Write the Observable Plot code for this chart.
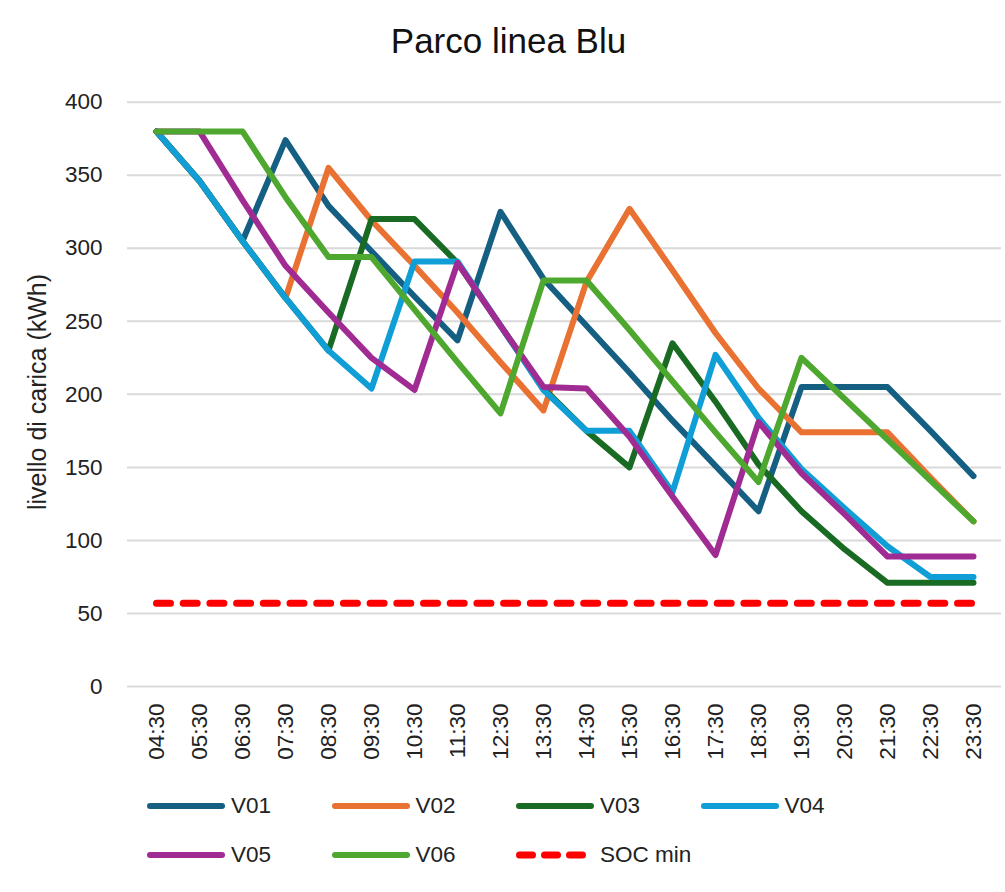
<!DOCTYPE html>
<html>
<head>
<meta charset="utf-8">
<script src="https://cdn.jsdelivr.net/npm/d3@7"></script>
<script src="https://cdn.jsdelivr.net/npm/@observablehq/plot@0.6"></script>
<style>
  html, body { margin: 0; padding: 0; background: #fff; }
  body { width: 1005px; height: 892px; position: relative; overflow: hidden;
         font-family: "Liberation Sans", Arial, sans-serif; color: #222; }
  #title { position: absolute; left: 6px; top: 23px; width: 1005px; text-align: center;
           font-size: 35px; line-height: 35px; color: #111; z-index: 2; }
  #ylabel { position: absolute; left: 37px; top: 392px; transform: translate(-50%, -50%) rotate(-90deg);
            white-space: nowrap; font-size: 25px; line-height: 25px; color: #222; z-index: 2; }
  #chart { position: absolute; left: 0; top: 80px; z-index: 1; }
  .leg { position: absolute; height: 30px; display: flex; align-items: center; font-size: 22.5px; color: #222; z-index: 2; }
  .leg svg { display: block; }
  .leg span { margin-left: 6px; }
</style>
</head>
<body>
<div id="title">Parco linea Blu</div>
<div id="ylabel">livello di carica (kWh)</div>
<div id="chart"></div>
<div id="legend"></div>
<script>
// ---- data ----
const times = ["04:30","05:30","06:30","07:30","08:30","09:30","10:30","11:30","12:30","13:30",
               "14:30","15:30","16:30","17:30","18:30","19:30","20:30","21:30","22:30","23:30"];
const seriesNames = ["V01","V02","V03","V04","V05","V06"];
const seriesColors = ["#156082","#E97132","#196B24","#0F9ED5","#A02B93","#4EA72E"];
const V01 = [380, 346, 305, 374, 329, 298, 267, 237, 325, 279, 247, 215, 182, 151, 120, 205, 205, 205, 175, 144];
const V02 = [380, 346, 305, 266, 355, 319, 288, 256, 222, 189, 277, 327, 285, 242, 204, 174, 174, 174, 143, 113];
const V03 = [380, 346, 305, 266, 230, 320, 320, 290, 247, 204, 175, 150, 235, 195, 152, 120, 94, 71, 71, 71];
const V04 = [380, 346, 305, 266, 230, 204, 291, 291, 247, 203, 175, 175, 133, 227, 184, 149, 122, 96, 75, 75];
const V05 = [380, 380, 333, 288, 256, 225, 203, 290, 247, 205, 204, 171, 130, 90, 181, 146, 118, 89, 89, 89];
const V06 = [380, 380, 380, 335, 294, 294, 258, 222, 187, 278, 278, 244, 209, 174, 140, 225, 197, 169, 141, 113];
const socMinName = "SOC min";
const socMin = [57, 57, 57, 57, 57, 57, 57, 57, 57, 57, 57, 57, 57, 57, 57, 57, 57, 57, 57, 57];
const yTicks = [0, 50, 100, 150, 200, 250, 300, 350, 400];

// ---- build tables ----
const seriesValues = [V01, V02, V03, V04, V05, V06];
const rows = [];
seriesNames.forEach((name, s) => {
  seriesValues[s].forEach((v, i) => rows.push({series: name, time: times[i], value: v}));
});
const socRows = socMin.map((v, i) => ({series: socMinName, time: times[i], value: v}));

const chart = Plot.plot({
  width: 1005,
  height: 686,
  marginLeft: 127,
  marginRight: 4,
  marginTop: 21.7,
  marginBottom: 80,
  style: {fontFamily: '"Liberation Sans", Arial, sans-serif', fontSize: "22.5px", color: "#222", background: "white"},
  x: {type: "point", domain: times, padding: 0.54},
  y: {domain: [0, 400]},
  color: {domain: seriesNames, range: seriesColors},
  marks: [
    Plot.ruleY(yTicks, {stroke: "#d9d9d9", strokeWidth: 2}),
    Plot.axisY({ticks: yTicks, tickSize: 0, tickPadding: 25, label: null}),
    Plot.axisX({tickRotate: -90, tickSize: 0, tickPadding: 17, label: null}),
    Plot.line(rows, {x: "time", y: "value", z: "series", stroke: "series",
                     strokeWidth: 6, strokeLinejoin: "round", strokeLinecap: "round"}),
    Plot.line(socRows, {x: "time", y: "value", stroke: "#FF0000", strokeWidth: 7,
                        strokeDasharray: "14,12.7", strokeLinecap: "round"})
  ]
});
document.getElementById("chart").appendChild(chart);

// ---- legend ----
const legendItems = seriesNames.map((n, i) => ({name: n, color: seriesColors[i], dash: false}))
  .concat([{name: socMinName, color: "#FF0000", dash: true}]);
const colX = [147, 331.5, 516, 700.5];
const rowY = [806, 855];
const legend = document.getElementById("legend");
legendItems.forEach((it, k) => {
  const div = document.createElement("div");
  div.className = "leg";
  div.style.left = colX[k % 4] + "px";
  div.style.top = (rowY[Math.floor(k / 4)] - 15) + "px";
  const w = it.dash ? 70 : 78;
  const sw = it.dash ? 7 : 6;
  const ns = "http://www.w3.org/2000/svg";
  const svg = document.createElementNS(ns, "svg");
  svg.setAttribute("width", w);
  svg.setAttribute("height", 12);
  const ln = document.createElementNS(ns, "line");
  ln.setAttribute("x1", sw / 2);
  ln.setAttribute("x2", w - sw / 2);
  ln.setAttribute("y1", 6);
  ln.setAttribute("y2", 6);
  ln.setAttribute("stroke", it.color);
  ln.setAttribute("stroke-width", sw);
  ln.setAttribute("stroke-linecap", "round");
  if (it.dash) ln.setAttribute("stroke-dasharray", "13,12");
  svg.appendChild(ln);
  div.appendChild(svg);
  const sp = document.createElement("span");
  sp.textContent = it.name;
  if (it.dash) sp.style.marginLeft = "14px";
  div.appendChild(sp);
  legend.appendChild(div);
});
</script>
</body>
</html>
